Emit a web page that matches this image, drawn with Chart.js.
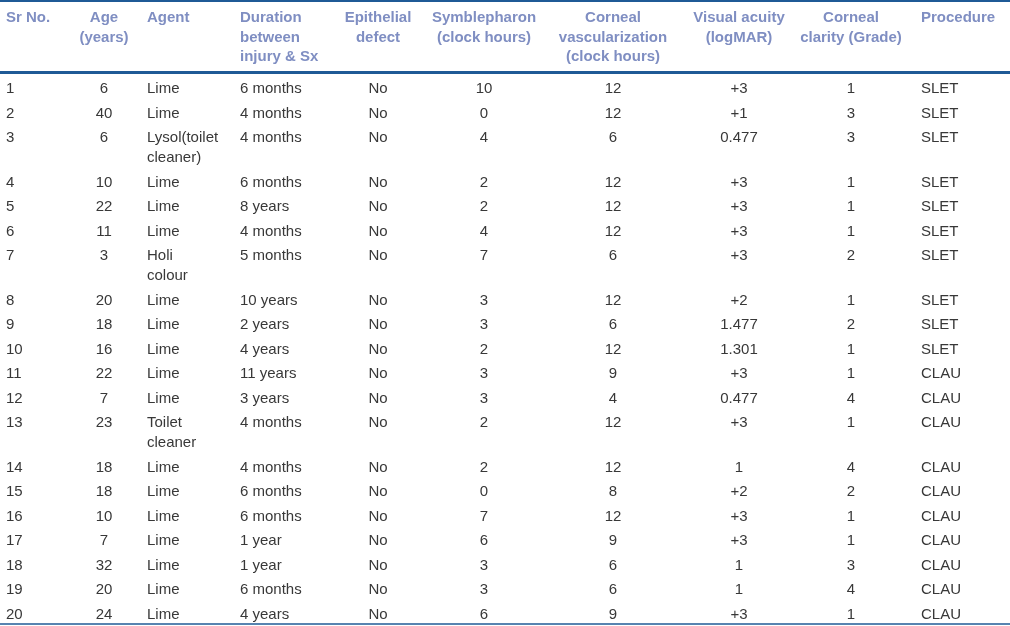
<!DOCTYPE html>
<html>
<head>
<meta charset="utf-8">
<script src="https://cdn.jsdelivr.net/npm/chart.js@4"></script>
<style>
  html, body { margin: 0; padding: 0; background: #fff; }
  #wrap { width: 1010px; height: 626px; }
</style>
</head>
<body>
<div id="wrap"><canvas id="tableChart" width="1010" height="626"></canvas></div>
<script>
// table data, one array per column
const headers = [
    ['Sr No.'], ['Age', '(years)'], ['Agent'], ['Duration', 'between', 'injury & Sx'],
    ['Epithelial', 'defect'], ['Symblepharon', '(clock hours)'],
    ['Corneal', 'vascularization', '(clock hours)'], ['Visual acuity', '(logMAR)'],
    ['Corneal', 'clarity (Grade)'], ['Procedure']
];
const srNo = [1, 2, 3, 4, 5, 6, 7, 8, 9, 10, 11, 12, 13, 14, 15, 16, 17, 18, 19, 20];
const ages = [6, 40, 6, 10, 22, 11, 3, 20, 18, 16, 22, 7, 23, 18, 18, 10, 7, 32, 20, 24];
const agents = ['Lime', 'Lime', 'Lysol(toilet\ncleaner)', 'Lime', 'Lime', 'Lime', 'Holi\ncolour',
    'Lime', 'Lime', 'Lime', 'Lime', 'Lime', 'Toilet\ncleaner', 'Lime', 'Lime', 'Lime', 'Lime',
    'Lime', 'Lime', 'Lime'];
const durations = ['6 months', '4 months', '4 months', '6 months', '8 years', '4 months', '5 months',
    '10 years', '2 years', '4 years', '11 years', '3 years', '4 months', '4 months', '6 months',
    '6 months', '1 year', '1 year', '6 months', '4 years'];
const epithelialDefect = ['No', 'No', 'No', 'No', 'No', 'No', 'No', 'No', 'No', 'No',
    'No', 'No', 'No', 'No', 'No', 'No', 'No', 'No', 'No', 'No'];
const symblepharon = [10, 0, 4, 2, 2, 4, 7, 3, 3, 2, 3, 3, 2, 2, 0, 7, 6, 3, 3, 6];
const vascularization = [12, 12, 6, 12, 12, 12, 6, 12, 6, 12, 9, 4, 12, 12, 8, 12, 9, 6, 6, 9];
const visualAcuity = ['+3', '+1', '0.477', '+3', '+3', '+3', '+3', '+2', '1.477', '1.301',
    '+3', '0.477', '+3', '1', '+2', '+3', '+3', '1', '1', '+3'];
const cornealClarity = [1, 3, 3, 1, 1, 1, 2, 1, 2, 1, 1, 4, 1, 4, 2, 1, 1, 3, 4, 1];
const procedures = ['SLET', 'SLET', 'SLET', 'SLET', 'SLET', 'SLET', 'SLET', 'SLET', 'SLET', 'SLET',
    'CLAU', 'CLAU', 'CLAU', 'CLAU', 'CLAU', 'CLAU', 'CLAU', 'CLAU', 'CLAU', 'CLAU'];

const columns = [srNo, ages, agents, durations, epithelialDefect, symblepharon,
    vascularization, visualAcuity, cornealClarity, procedures];

// layout (in scale units, which equal pixels here)
const colAnchor = [6, 104, 147, 240, 378, 484, 613, 739, 851, 921];
const colAlign = ['left', 'center', 'left', 'left', 'center', 'center', 'center', 'center', 'center', 'left'];
const headerTop = 18;
const lineStep = 19.5;
const firstRowY = 89;
const rowPitch = 24.5;
const extraLine = 20;
const ruleColor = '#1f5a96';
const headColor = '#7f8ec2';
const bodyColor = '#383838';
const fontFamily = 'Arial, "Liberation Sans", Helvetica, sans-serif';

// vertical position of each row, from how many text lines came before it
const rowY = [];
let extra = 0;
for (let i = 0; i < srNo.length; i++) {
    rowY.push(firstRowY + i * rowPitch + extra * extraLine);
    const lines = Math.max(...columns.map(c => String(c[i]).split('\n').length));
    extra += lines - 1;
}
const lastRowLines = Math.max(...columns.map(c => String(c[srNo.length - 1]).split('\n').length));
const tableBottom = rowY[rowY.length - 1] + (lastRowLines - 1) * extraLine + 9.5;

const datasets = columns.map((col, c) => ({
    label: headers[c].join(' '),
    data: col.map((v, i) => ({ x: colAnchor[c], y: rowY[i], text: String(v) })),
    pointRadius: 0,
    showLine: false
}));

const tablePlugin = {
    id: 'tablePlugin',
    beforeDatasetsDraw(chart) {
        const ctx = chart.ctx;
        const x = chart.scales.x, y = chart.scales.y;
        ctx.save();
        ctx.strokeStyle = ruleColor;
        const rule = (yv, w) => {
            ctx.lineWidth = w;
            ctx.beginPath();
            ctx.moveTo(x.getPixelForValue(x.min), y.getPixelForValue(yv));
            ctx.lineTo(x.getPixelForValue(x.max), y.getPixelForValue(yv));
            ctx.stroke();
        };
        rule(1, 2);
        rule(72.5, 3);
        rule(tableBottom, 1.5);

        // header
        ctx.fillStyle = headColor;
        ctx.font = 'bold 15px ' + fontFamily;
        ctx.textBaseline = 'middle';
        headers.forEach((lines, c) => {
            ctx.textAlign = colAlign[c];
            lines.forEach((t, k) => {
                ctx.fillText(t, x.getPixelForValue(colAnchor[c]), y.getPixelForValue(headerTop + k * lineStep));
            });
        });
        ctx.restore();
    },
    afterDatasetsDraw(chart) {
        const ctx = chart.ctx;
        ctx.save();
        ctx.fillStyle = bodyColor;
        ctx.font = '15px ' + fontFamily;
        ctx.textBaseline = 'middle';
        chart.data.datasets.forEach((ds, c) => {
            const meta = chart.getDatasetMeta(c);
            ctx.textAlign = colAlign[c];
            meta.data.forEach((pt, i) => {
                ds.data[i].text.split('\n').forEach((t, k) => {
                    ctx.fillText(t, pt.x, pt.y + k * extraLine);
                });
            });
        });
        ctx.restore();
    }
};

new Chart(document.getElementById('tableChart'), {
    type: 'scatter',
    data: { datasets: datasets },
    options: {
        responsive: false,
        animation: false,
        layout: { padding: 0 },
        scales: {
            x: { type: 'linear', min: 0, max: 1010, display: false },
            y: { type: 'linear', min: 0, max: 626, reverse: true, display: false }
        },
        plugins: {
            legend: { display: false },
            tooltip: { enabled: false }
        }
    },
    plugins: [tablePlugin]
});
</script>
</body>
</html>
